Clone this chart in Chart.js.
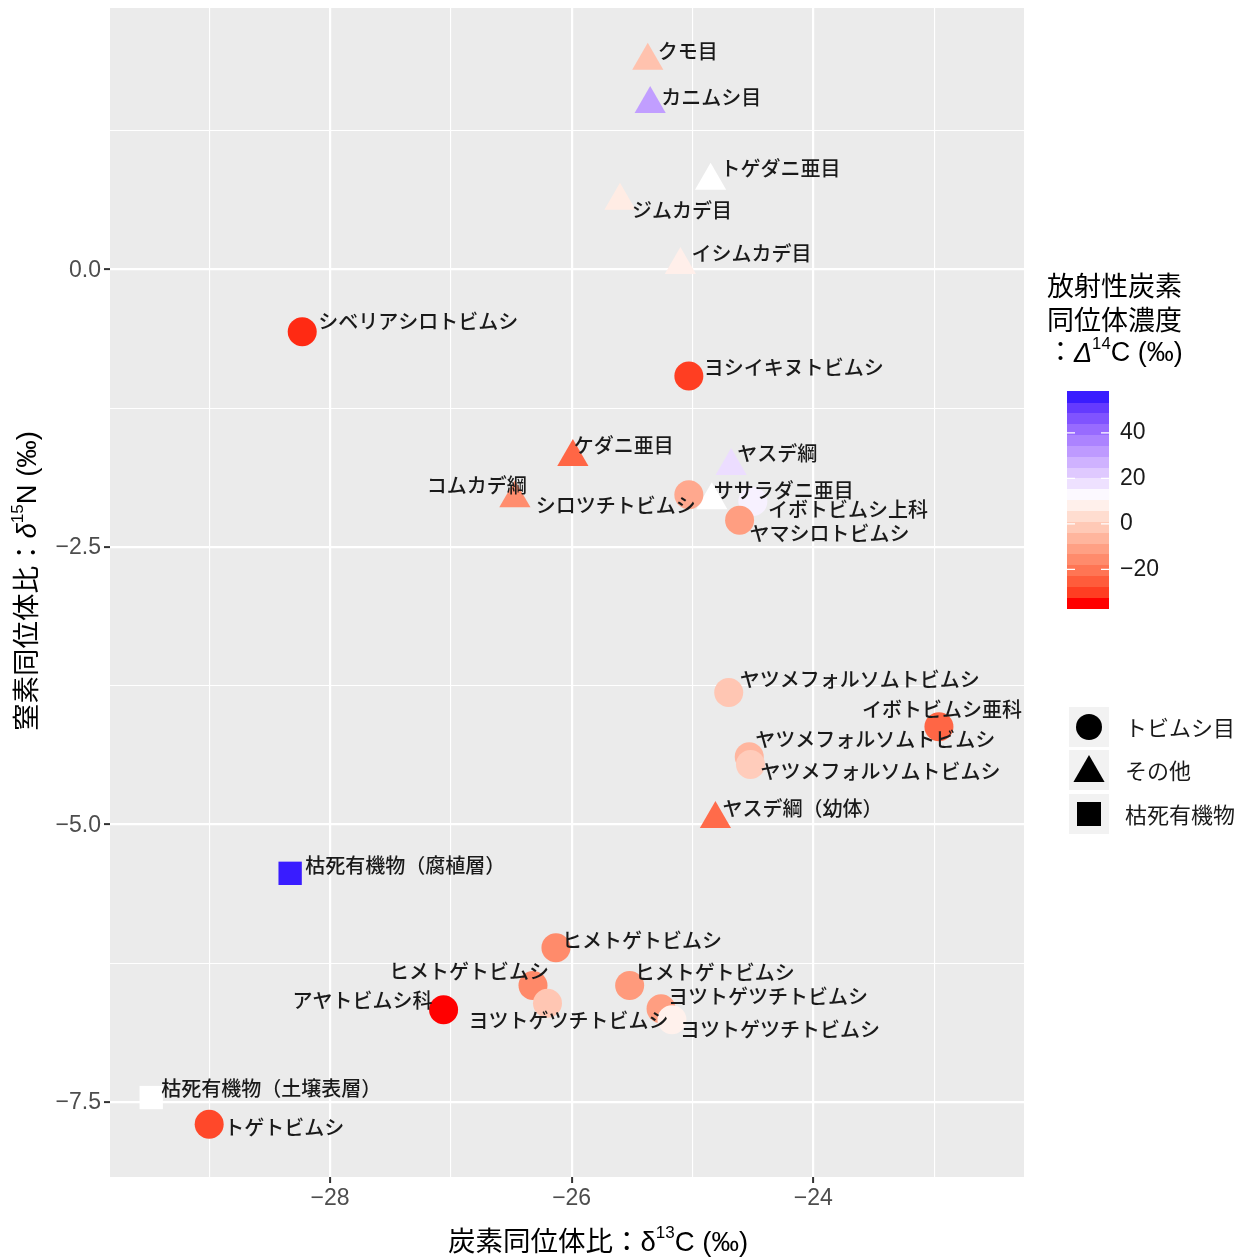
<!DOCTYPE html>
<html>
<head>
<meta charset="utf-8">
<script src="https://cdn.jsdelivr.net/npm/chart.js@4.4.0/dist/chart.umd.min.js"></script>
<style>
  html, body { margin: 0; padding: 0; background: #fff; }
  #wrap { width: 1243px; height: 1259px; position: relative; }
</style>
</head>
<body>
<div id="wrap"><canvas id="Cnvs1"></canvas></div>
<script>
// values
var names = ['クモ目', 'カニムシ目', 'トゲダニ亜目', 'ジムカデ目', 'イシムカデ目',
  'シベリアシロトビムシ', 'ヨシイキヌトビムシ', 'ケダニ亜目', 'コムカデ綱', 'ヤスデ綱',
  'ササラダニ亜目', 'シロツチトビムシ', 'イボトビムシ上科', 'ヤマシロトビムシ', 'ヤツメフォルソムトビムシ',
  'イボトビムシ亜科', 'ヤツメフォルソムトビムシ', 'ヤツメフォルソムトビムシ', 'ヤスデ綱（幼体）', '枯死有機物（腐植層）',
  'ヒメトゲトビムシ', 'ヒメトゲトビムシ', 'ヨツトゲツチトビムシ', 'アヤトビムシ科', 'ヒメトゲトビムシ',
  'ヨツトゲツチトビムシ', 'ヨツトゲツチトビムシ', '枯死有機物（土壌表層）', 'トゲトビムシ'];
// 0 = トビムシ目, 1 = その他, 2 = 枯死有機物
var group = [1, 1, 1, 1, 1,
  0, 0, 1, 1, 1,
  1, 0, 0, 0, 0,
  0, 0, 0, 1, 2,
  0, 0, 0, 0, 0,
  0, 0, 2, 0];
var d13C = [-25.37, -25.35, -24.85, -25.60, -25.10,
  -28.23, -25.03, -25.99, -26.47, -24.68,
  -24.84, -25.03, -24.50, -24.61, -24.70,
  -22.96, -24.53, -24.52, -24.81, -28.33,
  -26.13, -26.32, -26.20, -27.06, -25.52,
  -25.26, -25.17, -29.48, -29.00];
var d15N = [1.88, 1.49, 0.80, 0.62, 0.04,
  -0.56, -0.96, -1.69, -2.06, -1.77,
  -2.08, -2.03, -2.09, -2.26, -3.81,
  -4.12, -4.39, -4.46, -4.95, -5.44,
  -6.11, -6.45, -6.61, -6.67, -6.45,
  -6.66, -6.76, -7.46, -7.70];
var d14C = [-3.5, 32.5, 12, 7, 8,
  -34.5, -32, -25, -16.5, 19,
  12, -10, 15, -12.5, -2.5,
  -25, -6.5, -1, -24, 58.4,
  -17, -17.5, -2.5, -37, -13.5,
  -12.5, 8.5, 12, -30.5];
var groupNames = ['トビムシ目', 'その他', '枯死有機物'];
var xTicks = [-28, -26, -24];
var yTicks = [0, -2.5, -5, -7.5];
var barTicks = [40, 20, 0, -20];

// label placement (pixel offset of label start from the point)
var labelOff = [[10, -9], [11, -7], [10, -12], [12, 10], [11, -12],
  [16, -10], [15, -9], [1, -12], [-88, -13], [6, -13],
  [2, -10], [-153, 11], [15, 8], [10, 13], [11, -13],
  [-77, -17], [6, -17], [10, 7], [7, -11], [15, -8],
  [6, -7], [-144, -14], [-79, 17], [-151, -9], [5, -13],
  [7, -12], [8, 10], [10, -9], [15, 3]];

// ---- colour scale (gradient2: red - white - blue, lab interpolation) ----
function toLin(c) { c /= 255; return c <= 0.04045 ? c / 12.92 : Math.pow((c + 0.055) / 1.055, 2.4); }
function fromLin(c) { c = c <= 0.0031308 ? 12.92 * c : 1.055 * Math.pow(c, 1 / 2.4) - 0.055; return Math.max(0, Math.min(255, Math.round(c * 255))); }
function labF(t) { return t > 0.008856 ? Math.cbrt(t) : 7.787 * t + 16 / 116; }
function labFi(t) { var t3 = t * t * t; return t3 > 0.008856 ? t3 : (t - 16 / 116) / 7.787; }
function rgb2lab(c) {
  var r = toLin(c[0]), g = toLin(c[1]), b = toLin(c[2]);
  var X = (0.4124 * r + 0.3576 * g + 0.1805 * b) / 0.95047;
  var Y = 0.2126 * r + 0.7152 * g + 0.0722 * b;
  var Z = (0.0193 * r + 0.1192 * g + 0.9505 * b) / 1.08883;
  var fx = labF(X), fy = labF(Y), fz = labF(Z);
  return [116 * fy - 16, 500 * (fx - fy), 200 * (fy - fz)];
}
function lab2rgb(l) {
  var fy = (l[0] + 16) / 116, fx = fy + l[1] / 500, fz = fy - l[2] / 200;
  var X = labFi(fx) * 0.95047, Y = labFi(fy), Z = labFi(fz) * 1.08883;
  var r = 3.2406 * X - 1.5372 * Y - 0.4986 * Z;
  var g = -0.9689 * X + 1.8758 * Y + 0.0415 * Z;
  var b = 0.0557 * X - 0.2040 * Y + 1.0570 * Z;
  return 'rgb(' + fromLin(r) + ',' + fromLin(g) + ',' + fromLin(b) + ')';
}
var labLow = rgb2lab([255, 0, 0]), labMid = rgb2lab([255, 255, 255]), labHigh = rgb2lab([0, 0, 255]);
var cMin = Math.min.apply(null, d14C), cMax = Math.max.apply(null, d14C), cMid = 12;
var cHalf = Math.max(cMax - cMid, cMid - cMin);
function d14Colour(v) {
  var t = (v - cMid) / cHalf;
  var end = t < 0 ? labLow : labHigh;
  t = Math.min(1, Math.abs(t));
  return lab2rgb([0, 1, 2].map(function (k) { return labMid[k] + (end[k] - labMid[k]) * t; }));
}

function fmtNum(v, dec) { return v.toFixed(dec).replace('-', '\u2212'); }

var shapes = ['circle', 'triangle', 'rect'];
var radii = [14.5, 18, 16.5];
var datasets = groupNames.map(function (g, gi) {
  var idx = [];
  group.forEach(function (v, i) { if (v === gi) idx.push(i); });
  return {
    label: g,
    data: idx.map(function (i) { return { x: d13C[i], y: d15N[i], i: i }; }),
    pointStyle: shapes[gi],
    pointRadius: radii[gi],
    pointHoverRadius: radii[gi],
    pointBackgroundColor: idx.map(function (i) { return d14Colour(d14C[i]); }),
    pointBorderWidth: 0,
    pointHoverBorderWidth: 0,
    showLine: false
  };
});

var SANS = '"Liberation Sans", "Noto Sans CJK JP", sans-serif';
var CJK = '"Noto Sans CJK JP", sans-serif';

function drawRich(ctx, parts, x, y, size, align) {
  var w = 0, segs = [];
  parts.forEach(function (p) {
    var sup = p[1].indexOf('s') >= 0, it = p[1].indexOf('i') >= 0;
    var fs = sup ? size * 0.62 : size;
    var font = (it ? 'italic ' : '') + fs + 'px ' + SANS;
    ctx.font = font;
    var tw = ctx.measureText(p[0]).width;
    segs.push({ t: p[0], font: font, w: tw, dy: sup ? -size * 0.36 : 0 });
    w += tw;
  });
  var cx = align === 'center' ? x - w / 2 : x;
  ctx.textAlign = 'left';
  ctx.textBaseline = 'middle';
  segs.forEach(function (s) { ctx.font = s.font; ctx.fillText(s.t, cx, y + s.dy); cx += s.w; });
}

var panelBg = {
  id: 'panelBg',
  beforeDraw: function (chart) {
    var c = chart.ctx, a = chart.chartArea;
    c.save();
    c.fillStyle = '#FFFFFF';
    c.fillRect(0, 0, chart.width, chart.height);
    c.fillStyle = '#EBEBEB';
    c.fillRect(a.left, a.top, a.right - a.left, a.bottom - a.top);
    c.restore();
  }
};

var extras = {
  id: 'extras',
  afterDatasetsDraw: function (chart) {
    var c = chart.ctx;
    c.save();
    // point labels
    c.fillStyle = '#1A1A1A';
    c.font = '500 20px ' + CJK;
    c.textAlign = 'left';
    c.textBaseline = 'middle';
    chart.data.datasets.forEach(function (ds, di) {
      var meta = chart.getDatasetMeta(di);
      meta.data.forEach(function (el, j) {
        var i = ds.data[j].i;
        c.fillText(names[i], el.x + labelOff[i][0], el.y + labelOff[i][1]);
      });
    });
    c.restore();
  },
  afterDraw: function (chart) {
    var c = chart.ctx;
    c.save();
    // y tick labels
    var ys = chart.scales.y;
    c.fillStyle = '#4D4D4D';
    c.font = '23px ' + SANS;
    c.textAlign = 'right';
    c.textBaseline = 'middle';
    yTicks.forEach(function (t) { c.fillText(fmtNum(t, 1), ys.right - 9, ys.getPixelForValue(t) + 1); });

    // axis titles
    c.fillStyle = '#000000';
    drawRich(c, [['炭素同位体比：', ''], ['δ', ''], ['13', 's'], ['C (‰)', '']], 598, 1243, 27.5, 'center');
    c.save();
    c.translate(28, 581);
    c.rotate(-Math.PI / 2);
    drawRich(c, [['窒素同位体比：', ''], ['δ', 'i'], ['15', 's'], ['N (‰)', '']], 0, 0, 27.5, 'center');
    c.restore();

    // colour bar legend
    c.fillStyle = '#000000';
    c.font = '27px ' + CJK;
    c.textAlign = 'left';
    c.textBaseline = 'middle';
    c.fillText('放射性炭素', 1047, 286);
    c.fillText('同位体濃度', 1047, 320);
    drawRich(c, [['：', ''], ['Δ', 'i'], ['14', 's'], ['C (‰)', '']], 1047, 354, 27, 'left');

    var bx = 1067, bw = 42, bTop = 391, bBot = 608, nb = 20;
    var bh = (bBot - bTop) / nb;
    for (var k = 0; k < nb; k++) {
      var v = cMin + (cMax - cMin) * k / (nb - 1);
      c.fillStyle = d14Colour(v);
      var yb = bBot - (k + 1) * bh;
      c.fillRect(bx, Math.floor(yb), bw, Math.ceil(bh) + 1);
    }
    c.strokeStyle = '#FFFFFF';
    c.lineWidth = 1.2;
    c.fillStyle = '#1A1A1A';
    c.font = '23px ' + SANS;
    barTicks.forEach(function (t) {
      var yy = bBot - (t - cMin) / (cMax - cMin) * (bBot - bTop);
      c.beginPath();
      c.moveTo(bx, yy); c.lineTo(bx + 8, yy);
      c.moveTo(bx + bw - 8, yy); c.lineTo(bx + bw, yy);
      c.stroke();
      c.fillText(fmtNum(t, 0), 1120, yy);
    });

    // shape legend
    var ky = [707, 750, 794];
    ky.forEach(function (y0, gi) {
      c.fillStyle = '#F2F2F2';
      c.fillRect(1069, y0, 40, 40);
      var cx = 1089, cy = y0 + 20;
      c.fillStyle = '#000000';
      c.beginPath();
      if (gi === 0) {
        c.arc(cx, cy, 13, 0, Math.PI * 2);
      } else if (gi === 1) {
        var r = 18;
        c.moveTo(cx, cy - r + 3);
        c.lineTo(cx + r * 0.866, cy + r * 0.5 + 3);
        c.lineTo(cx - r * 0.866, cy + r * 0.5 + 3);
        c.closePath();
      } else {
        c.rect(cx - 12, cy - 12, 24, 24);
      }
      c.fill();
      c.fillStyle = '#1A1A1A';
      c.font = '22px ' + CJK;
      c.fillText(groupNames[gi], 1125, cy + 1);
    });
    c.restore();
  }
};

function isMult(v, step) { return Math.abs(v / step - Math.round(v / step)) < 1e-6; }

var Cnvs = document.getElementById('Cnvs1').getContext('2d');
var scatterChart = new Chart(Cnvs, {
  type: 'scatter',
  data: { datasets: datasets },
  options: {
    responsive: true,
    maintainAspectRatio: false,
    animation: false,
    events: [],
    layout: { autoPadding: false, padding: { top: 8, right: 219, left: 0, bottom: 0 } },
    plugins: { legend: { display: false }, tooltip: { enabled: false } },
    scales: {
      x: {
        type: 'linear', min: -29.821, max: -22.256,
        afterBuildTicks: function (s) {
          var t = [];
          for (var v = Math.ceil(s.min); v <= s.max; v++) t.push({ value: v });
          s.ticks = t;
        },
        afterFit: function (s) { s.height = 82; },
        ticks: {
          autoSkip: false, maxRotation: 0, padding: 2,
          color: '#4D4D4D', font: { size: 23, family: SANS },
          callback: function (v) { return xTicks.indexOf(v) >= 0 ? fmtNum(v, 0) : ''; }
        },
        grid: {
          color: '#FFFFFF',
          lineWidth: function (ctx) { return ctx.tick && isMult(ctx.tick.value, 2) ? 2.2 : 1.1; },
          tickColor: function (ctx) { return ctx.tick && isMult(ctx.tick.value, 2) ? '#333333' : 'rgba(0,0,0,0)'; },
          tickLength: 6,
          tickWidth: 2
        },
        border: { display: false }
      },
      y: {
        type: 'linear', min: -8.176, max: 2.356,
        afterBuildTicks: function (s) {
          var t = [];
          for (var k = Math.ceil(s.min / 1.25); k * 1.25 <= s.max; k++) t.push({ value: k * 1.25 });
          s.ticks = t;
        },
        afterFit: function (s) { s.width = 110; },
        ticks: { display: false },
        grid: {
          color: '#FFFFFF',
          lineWidth: function (ctx) { return ctx.tick && isMult(ctx.tick.value, 2.5) ? 2.2 : 1.1; },
          tickColor: function (ctx) { return ctx.tick && isMult(ctx.tick.value, 2.5) ? '#333333' : 'rgba(0,0,0,0)'; },
          tickLength: 6,
          tickWidth: 2
        },
        border: { display: false }
      }
    }
  },
  plugins: [panelBg, extras]
});
</script>
</body>
</html>
